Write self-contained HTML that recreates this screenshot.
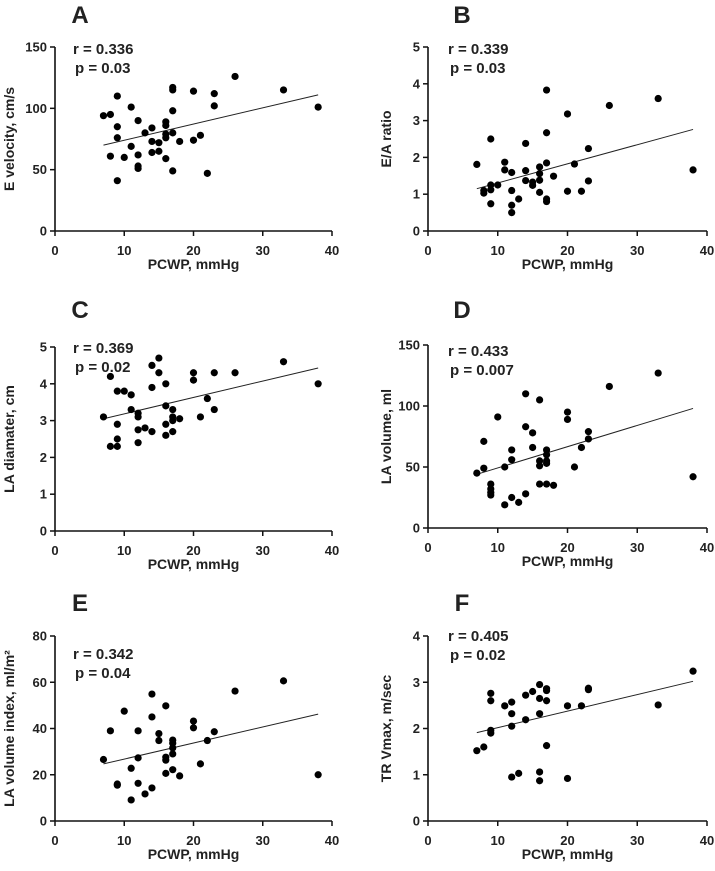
<!DOCTYPE html>
<html><head><meta charset="utf-8">
<style>
body{margin:0;background:#fff;}
svg{display:block;}
text{font-family:"Liberation Sans",sans-serif;font-weight:bold;fill:#222;}
.narrow{font-family:"Liberation Sans Narrow","Liberation Sans",sans-serif;}
</style></head>
<body>
<svg id="fig" width="715" height="871" viewBox="0 0 715 871" xmlns="http://www.w3.org/2000/svg"></svg>
<script>
const xA=[7,8,9,9,9,9,8,10,11,11,12,12,12,12,13,14,14,14,15,15,16,16,16,16,16,17,17,17,17,17,18,20,20,21,22,23,23,26,33,38];
const yA=[94,95,110,85,76,41,61,60,101,69,90,62,53,51,80,84,73,64,72,65,89,86,79,76,59,117,115,98,80,49,73,114,74,78,47,112,102,126,115,101];
const xB=[7,8,8,9,9,9,9,10,11,11,12,12,12,12,13,14,14,14,15,15,16,16,16,16,17,17,17,17,17,18,20,20,21,22,23,23,26,33,38];
const yB=[1.81,1.1,1.03,2.5,1.25,1.12,0.74,1.25,1.87,1.66,1.59,1.1,0.7,0.5,0.87,2.38,1.64,1.37,1.33,1.24,1.74,1.56,1.38,1.05,3.83,2.67,1.85,0.87,0.8,1.49,3.18,1.08,1.82,1.08,2.24,1.36,3.41,3.6,1.66];
const xC=[7,8,8,9,9,9,9,10,11,11,12,12,12,12,13,14,14,14,15,15,16,16,16,16,17,17,17,17,18,20,20,21,22,23,23,26,33,38];
const yC=[3.1,4.2,2.3,3.8,2.9,2.5,2.3,3.8,3.7,3.3,3.2,3.1,2.75,2.4,2.8,4.5,3.9,2.7,4.7,4.3,4.0,3.4,2.9,2.6,3.3,3.1,3.0,2.7,3.05,4.3,4.1,3.1,3.6,4.3,3.3,4.3,4.6,4.0];
const xD=[7,8,8,9,9,9,9,10,11,11,12,12,12,13,14,14,14,15,15,16,16,16,16,17,17,17,17,17,18,20,20,21,22,23,23,26,33,38];
const yD=[45,49,71,36,32,29,27,91,50,19,64,56,25,21,110,83,28,78,66,105,55,51,36,64,60,55,53,36,35,95,89,50,66,79,73,116,127,42];
const xE=[7,8,9,9,10,11,11,12,12,12,13,14,14,14,15,15,16,16,16,16,17,17,17,17,17,18,20,20,21,22,23,26,33,38];
const yE=[26.6,39,16,15.5,47.5,22.8,9.1,39,27.3,16.3,11.7,54.9,45,14.3,37.8,34.8,49.8,27.6,26.3,20.6,35,33.6,31.6,29,22.2,19.5,43.2,40.3,24.7,34.8,38.6,56.2,60.6,20];
const xF=[7,8,9,9,9,9,11,12,12,12,12,13,14,14,15,16,16,16,16,16,17,17,17,17,20,20,22,23,23,33,38];
const yF=[1.52,1.6,2.76,2.6,1.96,1.9,2.49,2.57,2.32,2.05,0.95,1.03,2.72,2.19,2.8,2.95,2.65,2.32,1.06,0.87,2.86,2.82,2.6,1.63,2.49,0.92,2.49,2.87,2.84,2.51,3.24];
const xTicks=[0,10,20,30,40];
const ticksA=[0,50,100,150], ticksB=[0,1,2,3,4,5], ticksC=[0,1,2,3,4,5], ticksD=[0,50,100,150], ticksE=[0,20,40,60,80], ticksF=[0,1,2,3,4];
const fitA=[70,111], fitB=[1.15,2.76], fitC=[3.05,4.43], fitD=[44,98], fitE=[24.7,46.2], fitF=[1.91,3.02];
const fitX=[7,38];

const NS="http://www.w3.org/2000/svg";
const svg=document.getElementById('fig');
function mk(tag,attrs,parent,txt){const e=document.createElementNS(NS,tag);for(const k in attrs)e.setAttribute(k,attrs[k]);if(txt!==undefined)e.textContent=txt;(parent||svg).appendChild(e);return e;}

const panels=[
 {id:'a',letter:'A',L:55,R:332,T:47,B:231,xs:xA,ys:yA,ticks:ticksA,fit:fitA,ylab:'E velocity, cm/s',r:'r = 0.336',p:'p = 0.03',sx:73,sy:54,lx:80,ly:23,yt:14},
 {id:'b',letter:'B',L:428,R:707,T:47,B:231,xs:xB,ys:yB,ticks:ticksB,fit:fitB,ylab:'E/A ratio',r:'r = 0.339',p:'p = 0.03',sx:448,sy:54,lx:462,ly:23,yt:391},
 {id:'c',letter:'C',L:55,R:332,T:347,B:531,xs:xC,ys:yC,ticks:ticksC,fit:fitC,ylab:'LA diamater, cm',r:'r = 0.369',p:'p = 0.02',sx:73,sy:353,lx:80,ly:318,yt:14},
 {id:'d',letter:'D',L:428,R:707,T:345,B:528,xs:xD,ys:yD,ticks:ticksD,fit:fitD,ylab:'LA volume, ml',r:'r = 0.433',p:'p = 0.007',sx:448,sy:356,lx:462,ly:318,yt:391},
 {id:'e',letter:'E',L:55,R:332,T:636,B:821,xs:xE,ys:yE,ticks:ticksE,fit:fitE,ylab:'LA volume index, ml/m²',r:'r = 0.342',p:'p = 0.04',sx:73,sy:659,lx:80,ly:611,yt:14},
 {id:'f',letter:'F',L:428,R:707,T:636,B:821,xs:xF,ys:yF,ticks:ticksF,fit:fitF,ylab:'TR Vmax, m/sec',r:'r = 0.405',p:'p = 0.02',sx:448,sy:641,lx:462,ly:611,yt:391}
];

panels.forEach(P=>{
 const g=mk('g',{});
 
 
 const ymax=P.ticks[P.ticks.length-1];
 const X=v=>P.L+(v-0)/40*(P.R-P.L);
 const Y=v=>P.B-(v/ymax)*(P.B-P.T);
 const lt=mk('text',{x:P.lx,y:P.ly,'font-size':24,'text-anchor':'middle'},g,P.letter);
 
 
 const ax=mk('g',{},g);
 
 
 mk('line',{x1:P.L,y1:P.T,x2:P.L,y2:P.B,stroke:'#111','stroke-width':1.6},ax);
 mk('line',{x1:P.L,y1:P.B,x2:P.R,y2:P.B,stroke:'#111','stroke-width':1.6},ax);
 xTicks.forEach(t=>{
  mk('line',{x1:X(t),y1:P.B,x2:X(t),y2:P.B+5,stroke:'#111','stroke-width':1.5},ax);
  const tx=mk('text',{x:X(t),y:P.B+24,'font-size':13,'text-anchor':'middle',class:'narrow'},ax,t);
  
  
 });
 P.ticks.forEach(t=>{
  mk('line',{x1:P.L-5,y1:Y(t),x2:P.L,y2:Y(t),stroke:'#111','stroke-width':1.5},ax);
  const ty=mk('text',{x:P.L-8,y:Y(t)+4.5,'font-size':13,'text-anchor':'end',class:'narrow'},ax,t);
  
  
 });
 const xt=mk('text',{x:(P.L+P.R)/2,y:P.B+38,'font-size':14,'text-anchor':'middle'},g,'PCWP, mmHg');
 
 
 const cy=(P.T+P.B)/2;
 const yt=mk('text',{x:P.yt,y:cy,'font-size':14,'text-anchor':'middle',transform:'rotate(-90 '+P.yt+' '+cy+')'},g,P.ylab);
 
 
 const r=mk('text',{x:P.sx,y:P.sy,'font-size':15,class:'narrow'},g,P.r);
 
 
 const p=mk('text',{x:P.sx+2,y:P.sy+19,'font-size':15,class:'narrow'},g,P.p);
 
 
 const fl=mk('line',{x1:X(fitX[0]),y1:Y(P.fit[0]),x2:X(fitX[1]),y2:Y(P.fit[1]),stroke:'#222','stroke-width':1},g);
 
 
 P.xs.forEach((xv,i)=>{
  const c=mk('circle',{cx:X(xv),cy:Y(P.ys[i]),r:3.6,fill:'#000'},g);
  
  
 });
});
</script>
</body></html>
